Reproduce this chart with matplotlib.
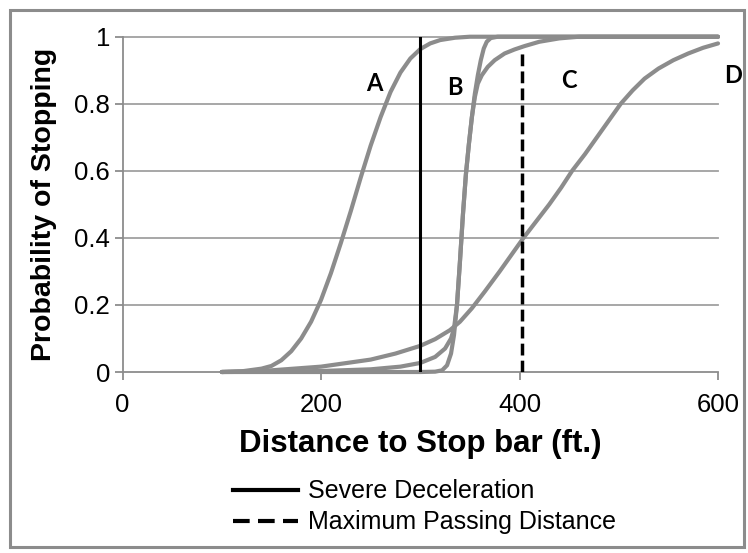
import matplotlib
matplotlib.use("Agg")
import matplotlib.pyplot as plt
from matplotlib.lines import Line2D
from matplotlib.patches import Rectangle

plt.rcParams['font.family'] = ['Liberation Sans', 'DejaVu Sans']

# Curves (distance in ft, probability of stopping)
a_x = [100, 120, 140, 150, 160, 170, 180, 190, 200, 210, 220, 230, 240, 250, 260, 270,
       280, 290, 300, 310, 320, 335, 350, 600]
a_y = [0.0, 0.002, 0.01, 0.018, 0.035, 0.062, 0.1, 0.15, 0.215, 0.295, 0.385, 0.48, 0.58,
       0.675, 0.76, 0.835, 0.893, 0.935, 0.963, 0.98, 0.99, 0.997, 1.0, 1.0]

b_x = [100, 300, 315, 322, 327, 331, 334, 337, 340, 343, 346, 349, 352, 355, 358, 361,
       364, 367, 371, 378, 600]
b_y = [0.0, 0.0, 0.001, 0.005, 0.02, 0.055, 0.11, 0.2, 0.33, 0.47, 0.59, 0.68, 0.76, 0.83,
       0.885, 0.93, 0.965, 0.985, 0.996, 1.0, 1.0]

c_x = [100, 150, 200, 250, 280, 300, 315, 325, 331, 334, 337, 340, 343, 346, 349, 352,
       355, 358, 362, 368, 375, 385, 395, 405, 420, 440, 460, 600]
c_y = [0.0, 0.001, 0.003, 0.008, 0.016, 0.027, 0.045, 0.07, 0.1, 0.13, 0.2, 0.33, 0.47,
       0.59, 0.68, 0.76, 0.82, 0.86, 0.885, 0.91, 0.93, 0.95, 0.962, 0.972, 0.985, 0.995,
       1.0, 1.0]

d_x = [100, 150, 200, 250, 275, 300, 315, 330, 340, 352, 365, 380, 392, 404, 417, 430,
       442, 453, 466, 478, 490, 502, 514, 526, 540, 555, 570, 585, 600]
d_y = [0.0, 0.005, 0.016, 0.037, 0.055, 0.078, 0.098, 0.125, 0.15, 0.19, 0.24, 0.3, 0.35,
       0.4, 0.45, 0.5, 0.55, 0.6, 0.65, 0.7, 0.75, 0.8, 0.84, 0.875, 0.905, 0.93, 0.95,
       0.967, 0.98]

curve_labels = ['A', 'B', 'C', 'D']
label_x = [254, 335, 450, 615]
label_y = [0.86, 0.85, 0.87, 0.885]

severe_decel_x = 300
max_passing_x = 403
max_passing_top = 0.96

x_ticks = [0, 200, 400, 600]
y_ticks = [0, 0.2, 0.4, 0.6, 0.8, 1]
y_ticklabels = ['0', '0.2', '0.4', '0.6', '0.8', '1']

fig = plt.figure(figsize=(7.48, 5.53), dpi=100)
ax = fig.add_axes([0.1638, 0.3273, 0.7961, 0.6063])

gray = '#8c8c8c'
for y in y_ticks[1:]:
    ax.axhline(y, color='#a0a0a0', lw=1.3, zorder=1, clip_on=False)

for xs, ys in [(a_x, a_y), (b_x, b_y), (c_x, c_y), (d_x, d_y)]:
    ax.plot(xs, ys, color=gray, lw=3.0, solid_capstyle='round', solid_joinstyle='round',
            zorder=3, clip_on=False)

ax.plot([severe_decel_x, severe_decel_x], [0, 1], color='black', lw=2.2, zorder=4)
ax.plot([max_passing_x, max_passing_x], [0, max_passing_top], color='black', lw=2.5,
        dashes=(3.4, 1.5), zorder=4)

for lab, lx, ly in zip(curve_labels, label_x, label_y):
    ax.text(lx, ly, lab, fontsize=17, fontweight='bold', family=['Lato', 'DejaVu Sans'],
            ha='center', va='center', color='black', clip_on=False)

ax.set_xlim(0, 600)
ax.set_ylim(0, 1)
ax.set_xticks(x_ticks)
ax.set_yticks(y_ticks)
ax.set_yticklabels(y_ticklabels)
ax.tick_params(axis='both', labelsize=18.5, colors=gray, labelcolor='black', length=6, width=1.3)
ax.tick_params(axis='y', direction='out', pad=3)
ax.tick_params(axis='x', direction='out', pad=9)
for s in ['top', 'right']:
    ax.spines[s].set_visible(False)
for s in ['left', 'bottom']:
    ax.spines[s].set_color(gray)
    ax.spines[s].set_linewidth(1.3)

ax.set_xlabel('Distance to Stop bar (ft.)', fontsize=22.5, fontweight='bold', labelpad=9)
ax.set_ylabel('Probability of Stopping', fontsize=20.5, fontweight='bold', labelpad=12)

handles = [Line2D([], [], color='black', lw=3),
           Line2D([], [], color='black', lw=3, dashes=(4, 2))]
fig.legend(handles, ['Severe Deceleration', 'Maximum Passing Distance'],
           loc='upper left', bbox_to_anchor=(0.311, 0.133), frameon=False,
           fontsize=18, handlelength=2.6, handletextpad=0.4, labelspacing=0.28,
           borderpad=0, borderaxespad=0)

fig.patches.append(Rectangle((0.0134, 0.0108), 0.981, 0.971, transform=fig.transFigure,
                             fill=False, edgecolor='#8c8c8c', lw=2.2))

fig.savefig('out.png', dpi=100)
